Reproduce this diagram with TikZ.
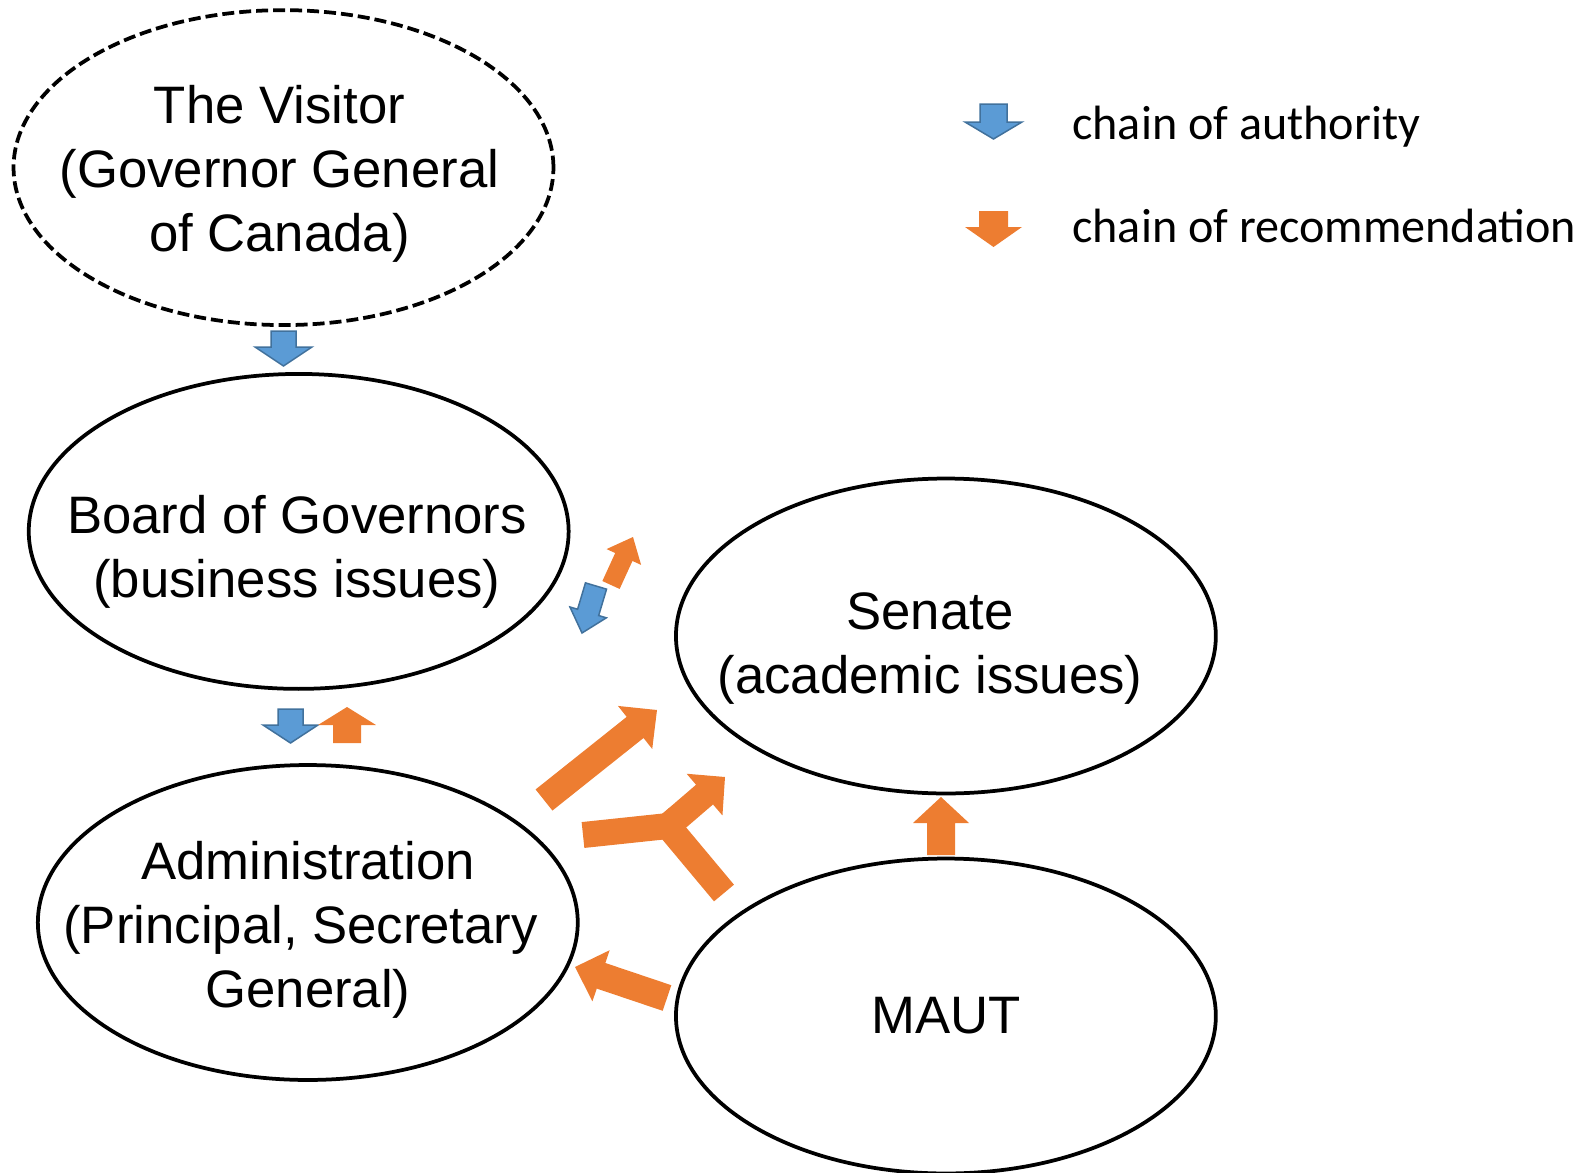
\documentclass[tikz,border=0pt]{standalone}
\usepackage{fontspec}
\setmainfont{Liberation Sans}
\newfontfamily\legendfont{Carlito}
\usetikzlibrary{calc}
\usetikzlibrary{shapes.geometric}
\definecolor{authfill}{HTML}{5B9BD5}
\definecolor{authline}{HTML}{41719C}
\definecolor{recfill}{HTML}{ED7D31}
% block arrow: style, from, to, shaft half width, head half width, head length
\newcommand{\blockarrow}[6]{%
  \coordinate (hb) at ($(#3)!#6!(#2)$);
  \path[#1] ($(#2)!#4!90:(#3)$) -- ($(hb)!#4!90:(#3)$) -- ($(hb)!#5!90:(#3)$) -- (#3)
    -- ($(hb)!#5!-90:(#3)$) -- ($(hb)!#4!-90:(#3)$) -- ($(#2)!#4!-90:(#3)$) -- cycle;}

\begin{document}
\begin{tikzpicture}
  [x=0.02cm,y=-0.02cm,
   body/.style={ellipse,draw,line width=0.075cm,minimum width=10.8cm,minimum height=6.3cm,inner sep=0pt},
   lbl/.style={align=center,font=\fontsize{30}{36.5}\selectfont},
   legend/.style={anchor=west,inner sep=0pt,font=\legendfont\fontsize{27.4}{32}\selectfont},
   authority/.style={fill=authfill,draw=authline,line width=0.03cm},
   recommend/.style={fill=recfill},
   stem/.style={draw=recfill,line width=0.52cm,line cap=rect}]

  \useasboundingbox (0,0) rectangle (1593,1173);

  \node[body,dash pattern=on 0.24cm off 0.1cm] (visitor) at (283.5,167.6) {};
  \node[body] (board) at (298.7,531.4) {};
  \node[body] (senate) at (945.9,636) {};
  \node[body] (admin) at (307.8,922.5) {};
  \node[body] (maut) at (945.9,1016) {};

  \node[lbl] (visitortxt) at (279.4,173.5) {The Visitor\\(Governor General\\of Canada)};
  \node[lbl] (boardtxt) at (297,552) {Board of Governors\\(business issues)};
  \node[lbl] (senatetxt) at (930,648.5) {Senate\\(academic issues)};
  \node[lbl] (admintxt) at (308,930) {Administration\\(Principal, Secretary\hspace{0.278em}\mbox{}\\General)};
  \node[lbl] (mauttxt) at (946,1015.5) {MAUT};

  % legend
  \coordinate (authtop) at (993.5,104);
  \coordinate (authtip) at (993.5,139);
  \coordinate (rectop) at (993.5,211);
  \coordinate (rectip) at (993.5,247);
  \blockarrow{authority}{authtop}{authtip}{0.27cm}{0.57cm}{0.34cm}
  \blockarrow{recommend}{rectop}{rectip}{0.29cm}{0.57cm}{0.40cm}
  \node[legend] (authtxt) at (1072,127) {chain of authority};
  \node[legend] (rectxt) at (1072,226) {chain of recommendation};

  % authority
  \coordinate (vbfrom) at (283.5,331);
  \coordinate (vbto) at (283.5,366);
  \coordinate (bafrom) at (290.5,709);
  \coordinate (bato) at (290.5,743);
  \coordinate (bsfrom) at (596,586);
  \coordinate (bsto) at (582,633);
  \blockarrow{authority}{vbfrom}{vbto}{0.25cm}{0.57cm}{0.38cm}
  \blockarrow{authority}{bafrom}{bato}{0.25cm}{0.55cm}{0.36cm}
  \blockarrow{authority}{bsfrom}{bsto}{0.22cm}{0.38cm}{0.43cm}

  % recommendation
  \coordinate (abfrom) at (347,743);
  \coordinate (abto) at (347,707);
  \coordinate (sbfrom) at (611,585);
  \coordinate (sbto) at (633,537);
  \coordinate (asfrom) at (544,800);
  \coordinate (asto) at (657,710);
  \coordinate (msfrom) at (941,855);
  \coordinate (msto) at (941,797);
  \coordinate (mafrom) at (667,998);
  \coordinate (mato) at (575,967);
  \blockarrow{recommend}{abfrom}{abto}{0.28cm}{0.58cm}{0.36cm}
  \blockarrow{recommend}{sbfrom}{sbto}{0.19cm}{0.38cm}{0.44cm}
  \blockarrow{recommend}{asfrom}{asto}{0.27cm}{0.55cm}{0.56cm}
  \blockarrow{recommend}{msfrom}{msto}{0.28cm}{0.56cm}{0.52cm}
  \blockarrow{recommend}{mafrom}{mato}{0.27cm}{0.54cm}{0.55cm}

  % joint recommendation to senate
  \coordinate (yleft) at (583,835);
  \coordinate (ymaut) at (724,893);
  \coordinate (yjoin) at (668,826);
  \coordinate (ytip) at (725,777);
  \draw[stem] ($(yleft)!0.26cm!(yjoin)$) -- (yjoin);
  \draw[stem] ($(ymaut)!0.26cm!(yjoin)$) -- (yjoin);
  \blockarrow{recommend}{yjoin}{ytip}{0.26cm}{0.55cm}{0.54cm}
\end{tikzpicture}
\end{document}
